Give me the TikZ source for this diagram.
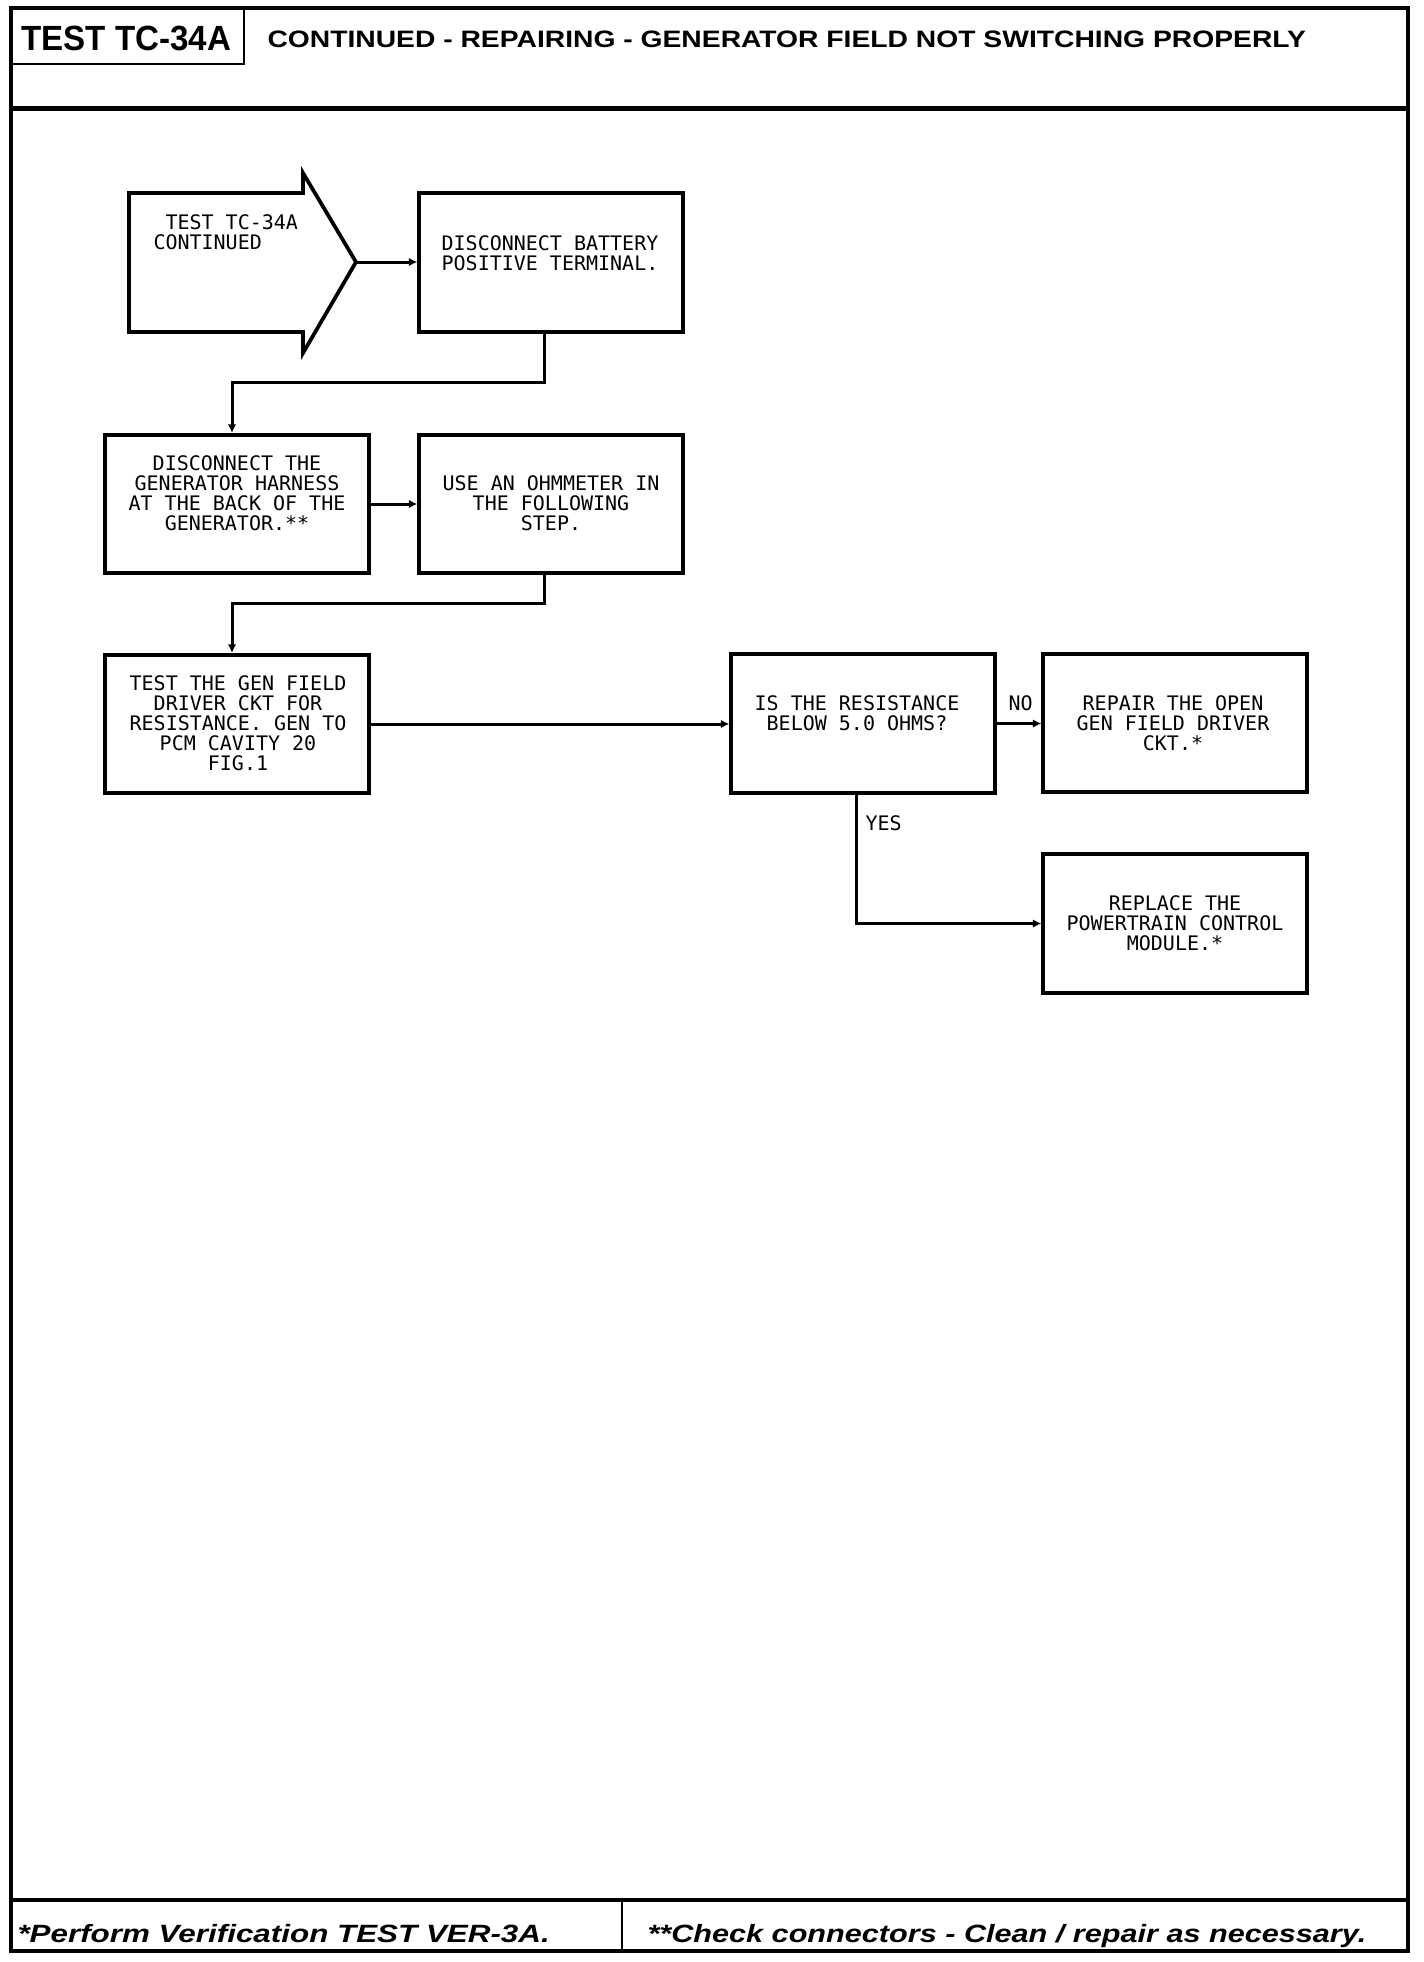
\documentclass[tikz,border=0pt]{standalone}
\usepackage{fontspec}
\usetikzlibrary{arrows.meta}
\newfontfamily\boxfont{DejaVu Sans Mono}
\newfontfamily\hdrfont{Liberation Sans}[FakeStretch=0.946]
\newfontfamily\ttlfont{Liberation Sans}[FakeStretch=1.19]
\newfontfamily\ftlfont{Liberation Sans}[FakeStretch=1.255]
\newfontfamily\ftrfont{Liberation Sans}[FakeStretch=1.225]
\begin{document}
\begin{tikzpicture}[x=0.4pt,y=-0.4pt,
  box/.style={draw,line width=1.5pt,rectangle,inner sep=0pt,minimum width=105.4pt,minimum height=55.4pt},
  txt/.style={inner sep=0pt,align=center,anchor=north,font=\boxfont\fontsize{8pt}{8pt}\selectfont},
  conn/.style={line width=1.2pt,-{Latex[length=3.4pt,width=3.4pt]}},
  frameline/.style={line width=1.8pt},
  foot/.style={anchor=base west,inner sep=0pt}]
\useasboundingbox (0,0) rectangle (1424,1962);
% frame
\draw[frameline] (11,8) rectangle (1408,1951);
\draw[line width=2pt] (11,108) -- (1408,108);
\draw[line width=1pt] (244,8) -- (244,64) -- (11,64);
\draw[line width=1.3pt] (11,1900) -- (1408,1900);
\draw[line width=0.9pt] (622,1900) -- (622,1951);
% header texts
\node[anchor=base west,inner sep=0pt,font=\hdrfont\bfseries\fontsize{14pt}{14pt}\selectfont] (hd) at (21,50) {TEST TC-34A};
\node[anchor=base west,inner sep=0pt,font=\ttlfont\bfseries\fontsize{9.5pt}{9.5pt}\selectfont] (ttl) at (267,47) {CONTINUED - REPAIRING - GENERATOR FIELD NOT SWITCHING PROPERLY};
% footer texts
\node[foot,font=\ftlfont\bfseries\itshape\fontsize{10pt}{10pt}\selectfont] (fl) at (17,1942) {*Perform Verification TEST VER-3A.};
\node[foot,font=\ftrfont\bfseries\itshape\fontsize{10pt}{10pt}\selectfont] (fr) at (647,1942) {**Check connectors - Clean / repair as necessary.};
% start arrow shape
\draw[line width=1.5pt,line join=miter] (129,193) -- (303,193) -- (303,173) -- (356,262) -- (303,353) -- (303,332) -- (129,332) -- cycle;
\coordinate (a1tip) at (356,262);
\node[txt,anchor=north west,align=left] (t1) at (153,214) {\hphantom{X}TEST TC-34A\\CONTINUED};
% boxes
\node[box] (b2) at (551,262.5) {};
\node[txt] (t2) at (550,235) {DISCONNECT BATTERY\\POSITIVE TERMINAL.};
\node[box] (b3) at (237,504) {};
\node[txt] (t3) at (237,455) {DISCONNECT THE\\GENERATOR HARNESS\\AT THE BACK OF THE\\GENERATOR.**};
\node[box] (b4) at (551,504) {};
\node[txt] (t4) at (551,475) {USE AN OHMMETER IN\\THE FOLLOWING\\STEP.};
\node[box] (b5) at (237,724) {};
\node[txt] (t5) at (238,675) {TEST THE GEN FIELD\\DRIVER CKT FOR\\RESISTANCE. GEN TO\\PCM CAVITY 20\\FIG.1};
\node[box] (b6) at (863,723.5) {};
\node[txt] (t6) at (857,695) {IS THE RESISTANCE\\BELOW 5.0 OHMS?};
\node[box] (b7) at (1175,723) {};
\node[txt] (t7) at (1173,695) {REPAIR THE OPEN\\GEN FIELD DRIVER\\CKT.*};
\node[box] (b8) at (1175,923.5) {};
\node[txt] (t8) at (1175,895) {REPLACE THE\\POWERTRAIN CONTROL\\MODULE.*};
% labels
\node[txt,anchor=north west] (no) at (1008,695) {NO};
\node[txt,anchor=north west] (yes) at (865,815) {YES};
% connectors
\coordinate (j1) at (232,382);
\coordinate (j2) at (232,603);
\draw[conn] (a1tip) -- (a1tip -| b2.west);
\draw[conn] ([xshift=-2.8pt]b2.south) |- (j1) -- (j1 |- b3.north);
\draw[conn] (b3.east) -- (b4.west);
\draw[conn] ([xshift=-2.8pt]b4.south) |- (j2) -- (j2 |- b5.north);
\draw[conn] (b5.east) -- (b5.east -| b6.west);
\draw[conn] (b6.east) -- (b6.east -| b7.west);
\draw[conn] ([xshift=-2.5pt]b6.south) |- (b8.west);
\end{tikzpicture}
\end{document}
